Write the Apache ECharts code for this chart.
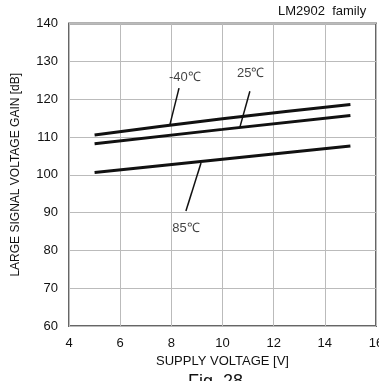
<!DOCTYPE html>
<html>
<head>
<meta charset="utf-8">
<script src="https://cdn.jsdelivr.net/npm/echarts@6/dist/echarts.min.js"></script>
<style>
  html, body { margin: 0; padding: 0; background: #fff; }
  #chart { width: 379px; height: 381px; }
</style>
</head>
<body>
<div id="chart"></div>
<script>
// supply voltage [V]
var voltage = [5, 10, 15]
// gain [dB] per temperature
var gainM40 = [110.5, 114.8, 118.6]
var gain25 = [108.2, 112.0, 115.7]
var gain85 = [100.6, 104.1, 107.6]

// leader lines: [x, y] pairs
var leaderM40 = [[8.3, 122.9], [7.95, 113.4]]
var leader25 = [[11.07, 122.1], [10.68, 112.6]]
var leader85 = [[9.16, 103.1], [8.57, 90.4]]

// label anchors
var tempLabels = [
  { name: '-40℃', value: [8.53, 125.8] },
  { name: '25℃', value: [11.1, 126.9] },
  { name: '85℃', value: [8.57, 85.9] }
]

var chart = echarts.init(document.getElementById('chart'))

function curve(name, ys) {
  return {
    name: name,
    type: 'line',
    symbol: 'none',
    smooth: true,
    lineStyle: { color: '#111', width: 3 },
    data: voltage.map(function (v, i) { return [v, ys[i]] }),
    z: 3
  }
}

function leader(pts) {
  return {
    type: 'line',
    symbol: 'none',
    lineStyle: { color: '#111', width: 1.5 },
    data: pts,
    z: 4
  }
}

chart.setOption({
  backgroundColor: '#fff',
  animation: false,
  textStyle: { fontFamily: 'Liberation Sans, Arial, sans-serif' },
  grid: {
    left: 69, top: 23.5, right: 3, bottom: 55,
    outerBoundsMode: 'none', containLabel: false,
    show: true, borderColor: '#666', borderWidth: 2
  },
  xAxis: {
    type: 'value',
    min: 4,
    max: 16,
    interval: 2,
    name: 'SUPPLY VOLTAGE [V]',
    nameLocation: 'middle',
    nameGap: 29,
    nameTextStyle: { color: '#111', fontSize: 13 },
    axisLine: { show: false },
    axisTick: { show: false },
    axisLabel: { color: '#111', fontSize: 13, margin: 11, alignMaxLabel: 'center', alignMinLabel: 'center' },
    splitLine: { show: true, lineStyle: { color: '#bbb', width: 1 } }
  },
  yAxis: {
    type: 'value',
    min: 60,
    max: 140,
    interval: 10,
    name: 'LARGE SIGNAL VOLTAGE GAIN [dB]',
    nameLocation: 'middle',
    nameGap: 47,
    nameTextStyle: { color: '#111', fontSize: 12 },
    axisLine: { show: false },
    axisTick: { show: false },
    axisLabel: { color: '#111', fontSize: 13, margin: 11 },
    splitLine: { show: true, lineStyle: { color: '#bbb', width: 1 } }
  },
  graphic: [
    { type: 'text', left: 278, top: 5, style: { text: 'LM2902  family', fontSize: 13, fill: '#111', fontFamily: 'Liberation Sans, Arial, sans-serif' } },
    { type: 'text', left: 188, top: 373, style: { text: 'Fig. 28', fontSize: 18, fill: '#111', fontFamily: 'Liberation Sans, Arial, sans-serif' } }
  ],
  series: [
    curve('-40℃', gainM40),
    curve('25℃', gain25),
    curve('85℃', gain85),
    leader(leaderM40),
    leader(leader25),
    leader(leader85),
    {
      type: 'scatter',
      symbolSize: 0,
      data: tempLabels,
      label: {
        show: true,
        position: 'inside',
        formatter: '{b}',
        color: '#111',
        fontSize: 13
      },
      z: 5
    }
  ]
})
</script>
</body>
</html>
